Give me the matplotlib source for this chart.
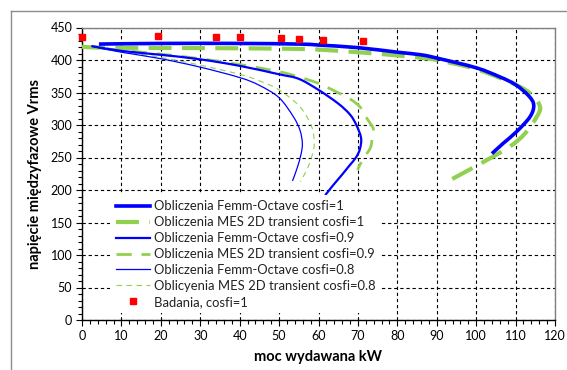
import matplotlib
matplotlib.use("Agg")
import matplotlib.pyplot as plt
from matplotlib.lines import Line2D
from matplotlib.path import Path
from matplotlib.patches import PathPatch
from matplotlib.ticker import MultipleLocator

plt.rcParams['font.family'] = ['Lato', 'DejaVu Sans']

# ---- data ----
femm_1_x = [4.3, 20, 40, 55, 60, 70, 80, 86, 90, 100, 106, 110, 113.3, 114.6, 113.7, 110.3, 106.9, 104]
femm_1_y = [424.5, 425.5, 425.5, 424.5, 423, 419, 412, 408, 403, 388, 374, 362, 345, 331, 313, 290, 272, 256]

mes_1_x = [0, 5, 20, 40, 55, 60, 70, 80, 88, 90, 100, 110, 114.2, 116.2, 115.4, 112.4, 108.6, 102.7, 93.8]
mes_1_y = [420.5, 419, 418.5, 418, 417, 416, 412, 407, 402, 400, 386, 362, 346, 328, 313, 287, 267, 246, 216.5]

femm_09_x = [2.4, 10, 20, 30, 40, 50, 55, 60, 65, 68, 69.6, 70.8, 70.5, 69.5, 67.9, 65.9, 63.8, 61.7]
femm_09_y = [421.5, 414, 408, 401, 391, 378, 371, 354, 333, 316, 300, 280, 263, 250, 238, 223, 208, 192]

mes_09_x = [0, 10, 20, 30, 40, 50, 55, 60, 64.2, 68, 70.5, 72.3, 73.9, 73.6, 73.1, 71.4, 69.9]
mes_09_y = [420.5, 415, 409, 402, 393, 382, 374, 364, 352, 340, 328, 310, 294, 278, 264, 249, 231]

femm_08_x = [2.4, 10, 20, 30, 40, 45, 50, 53.6, 55.3, 55.9, 55.6, 54.6, 53.4]
femm_08_y = [421, 412, 402, 389, 373, 361, 342, 313, 292, 272, 256, 234, 214]

mes_08_x = [0, 10, 20, 30, 40, 45, 50, 55.3, 58.3, 58.9, 58.5, 57.2, 55.4]
mes_08_y = [420.5, 413, 404, 392, 378, 368, 354, 328, 297, 272, 256, 233, 213]

bad_x = [0, 19.2, 34, 40, 50.4, 55, 61.2, 71.2]
bad_y = [436, 437, 435.5, 435.5, 434, 432.5, 431, 429.5]

labels = ["Obliczenia Femm-Octave cosfi=1",
          "Obliczenia MES 2D transient cosfi=1",
          "Obliczenia Femm-Octave cosfi=0.9",
          "Obliczenia MES 2D transient cosfi=0.9",
          "Obliczenia Femm-Octave cosfi=0.8",
          "Oblicyenia MES 2D transient cosfi=0.8",
          "Badania, cosfi=1"]

x_label = "moc wydawana kW"
y_label = "napięcie międzyfazowe Vrms"

BLUE = "#0000FF"
GREEN = "#92D050"
RED = "#FF0000"

W, H = 567, 370
fig = plt.figure(figsize=(W / 100, H / 100), dpi=100)
ax = fig.add_axes([82 / W, 1 - 320 / H, 473 / W, 292.5 / H])


def smooth_line(ax, xs, ys, label, zorder, **style):
    """Draw a smoothed (Excel-like) line through the read points as a Bezier path."""
    n = len(xs)
    verts = [(xs[0], ys[0])]
    codes = [Path.MOVETO]
    for i in range(n - 1):
        p0 = (xs[max(i - 1, 0)], ys[max(i - 1, 0)])
        p1 = (xs[i], ys[i])
        p2 = (xs[i + 1], ys[i + 1])
        p3 = (xs[min(i + 2, n - 1)], ys[min(i + 2, n - 1)])
        c1 = (p1[0] + (p2[0] - p0[0]) / 6, p1[1] + (p2[1] - p0[1]) / 6)
        c2 = (p2[0] - (p3[0] - p1[0]) / 6, p2[1] - (p3[1] - p1[1]) / 6)
        verts += [c1, c2, p2]
        codes += [Path.CURVE4] * 3
    ls = style.pop('ls', '-')
    lw = style.pop('lw', 1)
    color = style.pop('color')
    patch = PathPatch(Path(verts, codes), fill=False, edgecolor=color, lw=lw,
                      ls=ls, capstyle='butt', joinstyle='round', zorder=zorder)
    ax.add_patch(patch)
    ax.plot([], [], color=color, lw=lw, ls=ls, label=label)


smooth_line(ax, femm_1_x, femm_1_y, labels[0], 5, color=BLUE, lw=2.6)
smooth_line(ax, mes_1_x, mes_1_y, labels[1], 4, color=GREEN, lw=3.0, ls=(0, (5.5, 2.5)))
smooth_line(ax, femm_09_x, femm_09_y, labels[2], 5, color=BLUE, lw=1.6)
smooth_line(ax, mes_09_x, mes_09_y, labels[3], 4, color=GREEN, lw=2.0, ls=(0, (5.5, 3.5)))
smooth_line(ax, femm_08_x, femm_08_y, labels[4], 5, color=BLUE, lw=0.9)
smooth_line(ax, mes_08_x, mes_08_y, labels[5], 4, color=GREEN, lw=0.8, ls=(0, (5, 4)))
ax.plot(bad_x, bad_y, ls='none', marker='s', ms=4.6, color=RED, mec=RED,
        label=labels[6], zorder=6, clip_on=False)

ax.set_xlim(0, 120)
ax.set_ylim(0, 450)
ax.xaxis.set_major_locator(MultipleLocator(10))
ax.xaxis.set_minor_locator(MultipleLocator(2))
ax.yaxis.set_major_locator(MultipleLocator(50))
ax.yaxis.set_minor_locator(MultipleLocator(10))

ax.grid(True, which='major', color='black', lw=0.8, dashes=(3, 2.5))
ax.set_axisbelow(True)

for s in ['top', 'right']:
    ax.spines[s].set_color('#808080')
    ax.spines[s].set_linewidth(1.0)
for s in ['left', 'bottom']:
    ax.spines[s].set_color('black')
    ax.spines[s].set_linewidth(1.0)

ax.tick_params(which='major', direction='out', length=4, width=0.8, color='black',
               labelsize=9, pad=3, labelcolor='black')
ax.tick_params(which='minor', direction='out', length=3, width=0.8, color='black')

ax.set_xlabel(x_label, fontsize=10.5, fontweight='bold', labelpad=6)
ax.set_ylabel(y_label, fontsize=10.5, fontweight='bold', labelpad=6)

leg = ax.legend(loc='upper left', bbox_to_anchor=(0.06, 0.427), fontsize=9.4,
                frameon=True, fancybox=False, edgecolor='none', facecolor='white',
                framealpha=1.0, handlelength=2.6, handletextpad=0.33, labelspacing=0.3,
                borderpad=0.4, borderaxespad=0)
leg.set_zorder(10)
for t in leg.get_texts():
    t.set_color('#222222')

# outer chart border
fig.add_artist(Line2D([11 / W, 11 / W], [0, 1 - 10.5 / H], color='#8c8c8c', lw=1.0))
fig.add_artist(Line2D([11 / W, 1], [1 - 10.5 / H, 1 - 10.5 / H], color='#8c8c8c', lw=1.0))

fig.savefig("out.png", dpi=100, facecolor='white')
